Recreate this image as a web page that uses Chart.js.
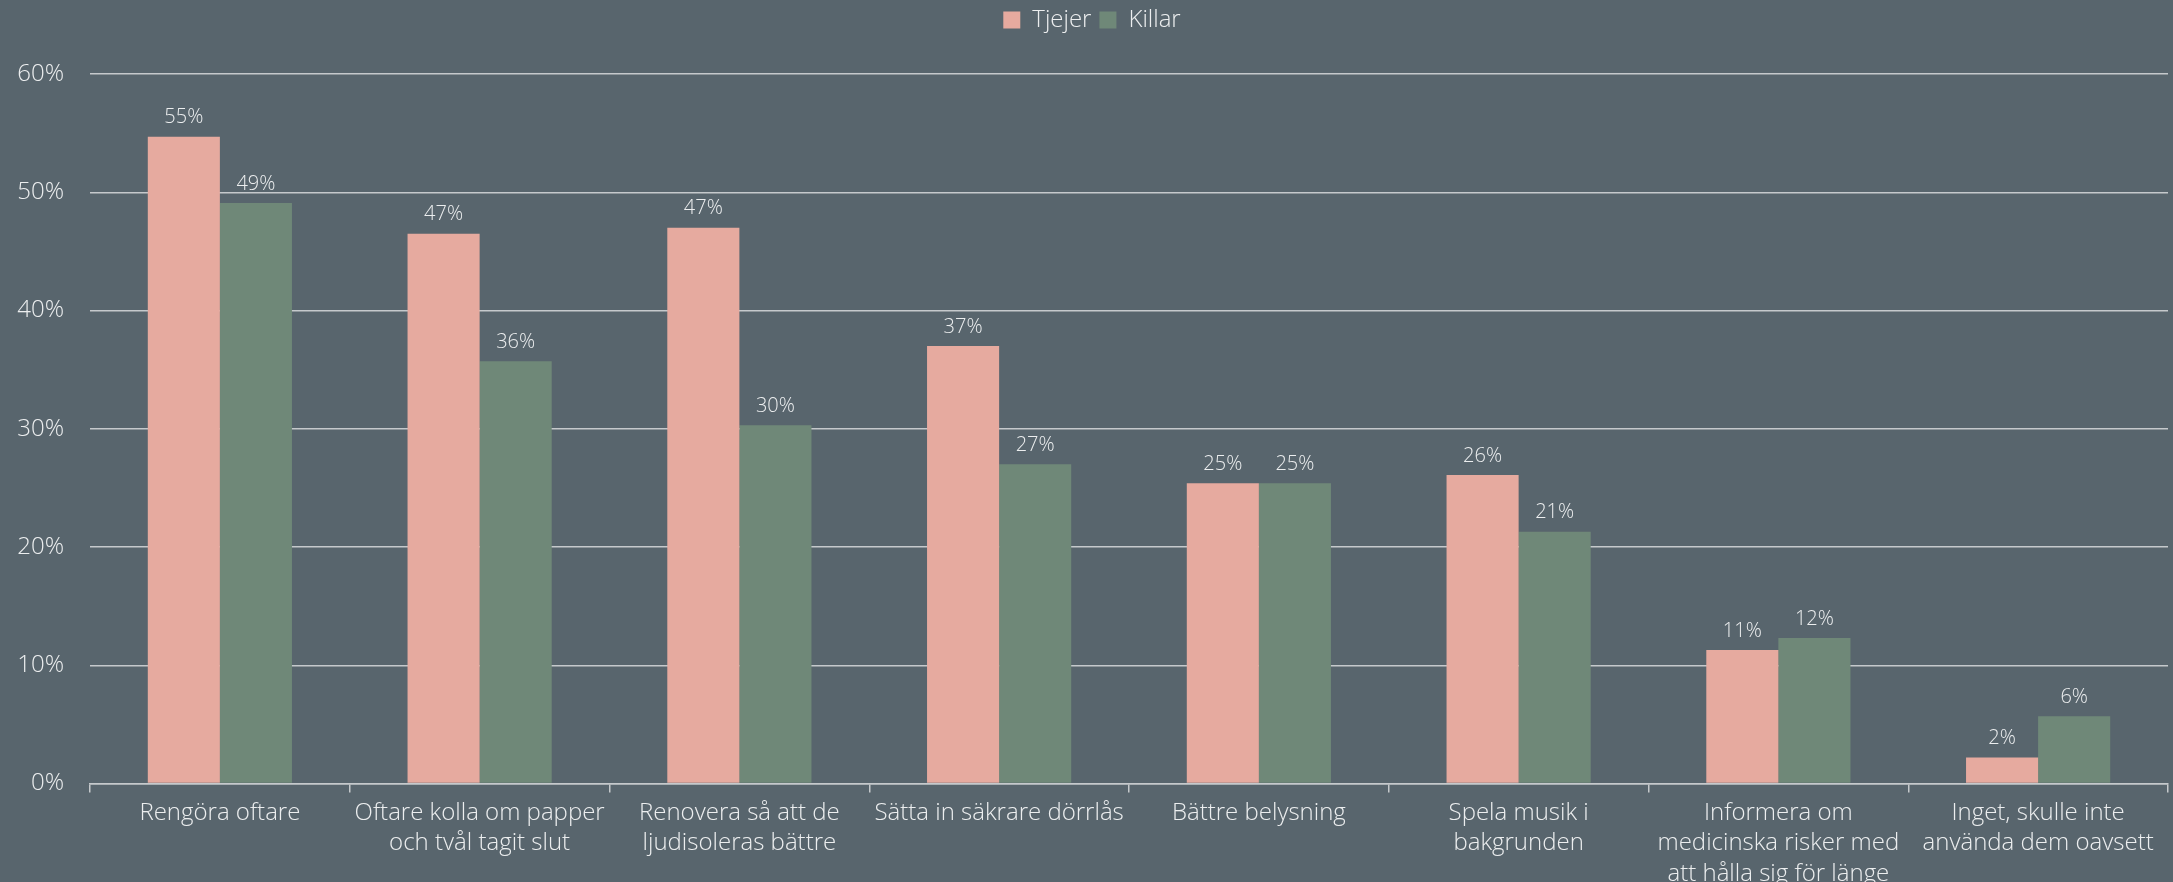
<!DOCTYPE html>
<html>
<head>
<meta charset="utf-8">
<script src="https://cdn.jsdelivr.net/npm/chart.js@4"></script>
<style>
	body { margin: 0; background: #58656d; overflow: hidden; }
	#wrap { width: 2173px; height: 894px; }
</style>
</head>
<body>
<div id="wrap"><canvas id="myChart"></canvas></div>
<script>
/* Chart data */
const categories = [
	'Rengöra oftare',
	['Oftare kolla om papper', 'och tvål tagit slut'],
	['Renovera så att de', 'ljudisoleras bättre'],
	'Sätta in säkrare dörrlås',
	'Bättre belysning',
	['Spela musik i', 'bakgrunden'],
	['Informera om', 'medicinska risker med', 'att hålla sig för länge'],
	['Inget, skulle inte', 'använda dem oavsett'],
];
const seriesNames = ['Tjejer', 'Killar'];
const tjejerValues = [54.7, 46.5, 47.0, 37.0, 25.4, 26.1, 11.3, 2.2];
const killarValues = [49.1, 35.7, 30.3, 27.0, 25.4, 21.3, 12.3, 5.7];
const yTicks = [0, 10, 20, 30, 40, 50, 60];

// Colors
const tjejerColor = '#e6aa9f';
const killarColor = '#6f8878';
const textColor = '#eceeef';
const lineColor = '#c5c9cc';
const fontFamily = "'Open Sans', sans-serif";

/* Plugin: value labels above bars */
const valueLabels = {
	id: 'valueLabels',
	afterDatasetsDraw(chart) {
		const ctx = chart.ctx;
		ctx.save();
		ctx.font = `300 20px ${fontFamily}`;
		ctx.fillStyle = textColor;
		ctx.textAlign = 'center';
		ctx.textBaseline = 'middle';
		chart.data.datasets.forEach((ds, i) => {
			chart.getDatasetMeta(i).data.forEach((bar, j) => {
				ctx.fillText(`${Math.round(ds.data[j])}%`, bar.x, bar.y - 19);
			});
		});
		ctx.restore();
	},
};

/* Plugin: extra space under the legend */
const legendMargin = {
	id: 'legendMargin',
	beforeInit(chart) {
		const fit = chart.legend.fit;
		chart.legend.fit = function () {
			fit.bind(chart.legend)();
			this.height += 32;
		};
	},
};

Chart.defaults.font.family = fontFamily;
Chart.defaults.font.weight = 300;
Chart.defaults.color = textColor;

const chartConfig = {
	type: 'bar',
	data: {
		labels: categories,
		datasets: [
			{ label: seriesNames[0], data: tjejerValues, backgroundColor: tjejerColor },
			{ label: seriesNames[1], data: killarValues, backgroundColor: killarColor },
		],
	},
	options: {
		responsive: true,
		maintainAspectRatio: false,
		animation: false,
		layout: {
			padding: { left: 16, right: 5, top: 0, bottom: 0 },
		},
		datasets: {
			bar: { categoryPercentage: 0.555, barPercentage: 1 },
		},
		scales: {
			x: {
				grid: {
					display: true,
					drawOnChartArea: false,
					color: lineColor,
					lineWidth: 1.5,
					tickLength: 9,
				},
				border: { display: true, color: lineColor, width: 1.5 },
				ticks: {
					maxRotation: 0,
					autoSkip: false,
					padding: 5,
					font: { size: 24, weight: 300, lineHeight: 1.27 },
				},
			},
			y: {
				min: 0,
				max: 60,
				afterBuildTicks(scale) {
					scale.ticks = yTicks.map((v) => ({ value: v }));
				},
				afterFit(scale) {
					scale.width = 74;
				},
				grid: { color: lineColor, lineWidth: 1.5, drawTicks: false },
				border: { display: false },
				ticks: {
					padding: 26,
					font: { size: 24, weight: 300 },
					callback: (v) => `${v}%`,
				},
			},
		},
		plugins: {
			legend: {
				position: 'top',
				labels: {
					boxWidth: 17,
					boxHeight: 17,
					padding: 8,
					font: { size: 24, weight: 300 },
				},
			},
			tooltip: { enabled: false },
		},
	},
	plugins: [valueLabels, legendMargin],
};

const myChart = new Chart(document.getElementById('myChart'), chartConfig);
</script>
</body>
</html>
